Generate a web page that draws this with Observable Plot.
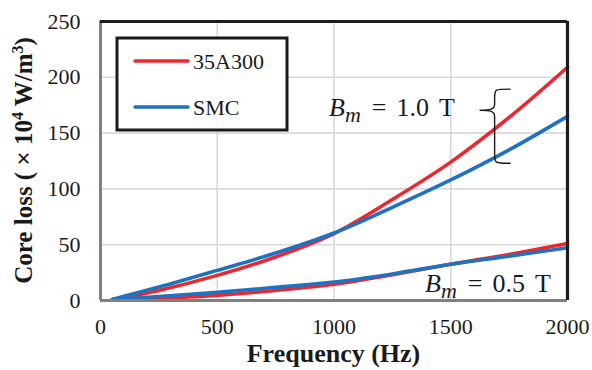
<!DOCTYPE html>
<html>
<head>
<meta charset="utf-8">
<script src="https://cdn.jsdelivr.net/npm/d3@7"></script>
<script src="https://cdn.jsdelivr.net/npm/@observablehq/plot@0.6"></script>
<style>
  html, body { margin: 0; padding: 0; background: #fff; }
  #chart svg { display: block; }
</style>
</head>
<body>
<div id="chart"></div>
<script>
// Core loss vs. frequency for two materials at two flux densities
const frequency = [50, 250, 500, 750, 1000, 1250, 1500, 1750, 2000];

// 35A300 electrical steel (×10^4 W/m^3)
const steel10T = [0.5, 9, 22.5, 39, 60, 90.5, 124, 164, 209];
const steel05T = [0.2, 1.8, 4.5, 9, 14.5, 23, 32.5, 41.2, 51];

// Soft magnetic composite (×10^4 W/m^3)
const smc10T = [1, 12, 27, 42.5, 60.5, 83.5, 108, 135, 165];
const smc05T = [0.8, 3.6, 7.3, 11.8, 16.5, 23.8, 32.5, 39.7, 47.2];

const materials = ["35A300", "SMC"];
const materialColors = ["#ed2630", "#1f72c0"];

const xTicks = [0, 500, 1000, 1500, 2000];
const yTicks = [0, 50, 100, 150, 200, 250];

// Flux-density annotations: [label value, frequency, loss]
const bmLabels = [["1.0", 981, 165], ["0.5", 1392, 7.4]];
// Brace grouping the 1.0 T curves: frequency of stem, loss at top, tip and bottom
const brace = {f: 1690, top: 189, tip: 170, bottom: 122.5};

const toRows = (vals, material, bm) => frequency.map((f, i) => ({f, loss: vals[i], material, bm}));
const steelRows = [...toRows(steel10T, "35A300", "1.0"), ...toRows(steel05T, "35A300", "0.5")];
const smcRows = [...toRows(smc10T, "SMC", "1.0"), ...toRows(smc05T, "SMC", "0.5")];

const serif = "'Liberation Serif', 'Times New Roman', serif";
const NS = "http://www.w3.org/2000/svg";
const el = (name, attrs = {}, text) => {
  const e = document.createElementNS(NS, name);
  for (const [k, v] of Object.entries(attrs)) e.setAttribute(k, v);
  if (text != null) e.textContent = text;
  return e;
};

// Brace drawn in data coordinates
const braceMark = (index, {x, y}) => {
  const sx = x(brace.f), y0 = y(brace.top), yt = y(brace.tip), y1 = y(brace.bottom);
  const ex = sx + 16, tx = sx - 15;
  const d = `M${ex},${y0} C${sx},${y0} ${sx},${y0} ${sx},${y0 + 9}
    L${sx},${yt - 6} C${sx},${yt - 1} ${sx - 4},${yt} ${tx},${yt}
    C${sx - 4},${yt} ${sx},${yt + 1} ${sx},${yt + 6}
    L${sx},${y1 - 9} C${sx},${y1} ${sx},${y1} ${ex},${y1}`;
  return el("path", {d, fill: "none", stroke: "#1a1a1a", "stroke-width": 1.4});
};

// "B_m = x T" labels with italic B and subscript m
const bmMark = (index, {x, y}) => {
  const g = el("g", {"font-family": serif, "font-size": 26, fill: "#1a1a1a", "text-anchor": "start"});
  for (const [val, f, loss] of bmLabels) {
    const t = el("text", {x: x(f), y: y(loss)});
    t.append(el("tspan", {"font-style": "italic"}, "B"));
    t.append(el("tspan", {"font-style": "italic", "font-size": 22, dy: 6, dx: 0}, "m"));
    t.append(el("tspan", {dy: -6, dx: 11}, "="));
    t.append(el("tspan", {dx: 10}, val));
    t.append(el("tspan", {dx: 10}, "T"));
    g.append(t);
  }
  return g;
};

// Boxed legend in the upper-left of the frame
const legendMark = (index, scales, values, dims) => {
  const x0 = dims.marginLeft + 17, y0 = dims.marginTop + 17;
  const g = el("g", {"font-family": serif, "font-size": 22, fill: "#1a1a1a", "text-anchor": "start"});
  g.append(el("rect", {x: x0, y: y0, width: 170, height: 92, fill: "#fff", stroke: "#1a1a1a", "stroke-width": 3}));
  materials.forEach((m, i) => {
    const cy = y0 + 23 + i * 46;
    g.append(el("line", {x1: x0 + 18, x2: x0 + 71, y1: cy, y2: cy, stroke: materialColors[i], "stroke-width": 3.5, "stroke-linecap": "round"}));
    g.append(el("text", {x: x0 + 76, y: cy, dy: "0.35em"}, m));
  });
  return g;
};

// Axis titles
const titleMark = (index, scales, values, dims) => {
  const g = el("g", {"font-family": serif, "font-weight": "bold", fill: "#1a1a1a", "text-anchor": "middle"});
  const cx = dims.marginLeft + (dims.width - dims.marginLeft - dims.marginRight) / 2;
  g.append(el("text", {x: cx, y: 362, "font-size": 26}, "Frequency (Hz)"));
  const cy = dims.marginTop + (dims.height - dims.marginTop - dims.marginBottom) / 2;
  const yt = el("text", {transform: `translate(32,${cy}) rotate(-90)`, "font-size": 25});
  yt.append(el("tspan", {}, "Core loss ( × 10"));
  yt.append(el("tspan", {dy: -9, "font-size": 16}, "4"));
  yt.append(el("tspan", {dy: 9}, " W/m"));
  yt.append(el("tspan", {dy: -9, "font-size": 16}, "3"));
  yt.append(el("tspan", {dy: 9}, ")"));
  g.append(yt);
  return g;
};

const chart = Plot.plot({
  width: 592,
  height: 370,
  marginLeft: 100,
  marginRight: 25,
  marginTop: 21,
  marginBottom: 70,
  style: {fontFamily: serif, fontSize: "22px", color: "#1a1a1a", background: "#fff", overflow: "visible"},
  x: {domain: [0, 2000], ticks: xTicks, tickSize: 0, tickPadding: 18, tickFormat: d => String(d), label: null},
  y: {domain: [0, 250], ticks: yTicks, tickSize: 0, tickPadding: 20, tickFormat: d => String(d), label: null},
  marks: [
    Plot.gridX(xTicks.slice(1, -1), {stroke: "#d9d9d9", strokeOpacity: 1, strokeWidth: 1.6}),
    Plot.gridY(yTicks.slice(1, -1), {stroke: "#d9d9d9", strokeOpacity: 1, strokeWidth: 1.6}),
    Plot.line(steelRows, {x: "f", y: "loss", z: "bm", stroke: materialColors[0], strokeWidth: 3.6, curve: "catmull-rom"}),
    Plot.line(smcRows, {x: "f", y: "loss", z: "bm", stroke: materialColors[1], strokeWidth: 3.6, curve: "catmull-rom"}),
    Plot.ruleX([0], {stroke: "#808080", strokeWidth: 3}),
    Plot.ruleY([0], {stroke: "#808080", strokeWidth: 3}),
    Plot.ruleY([250], {stroke: "#1c1c1c", strokeWidth: 3}),
    Plot.ruleX([2000], {y1: 0, y2: 250, stroke: "#1c1c1c", strokeWidth: 3.2}),
    braceMark,
    bmMark,
    legendMark,
    titleMark
  ]
});

document.getElementById("chart").append(chart);
</script>
</body>
</html>
